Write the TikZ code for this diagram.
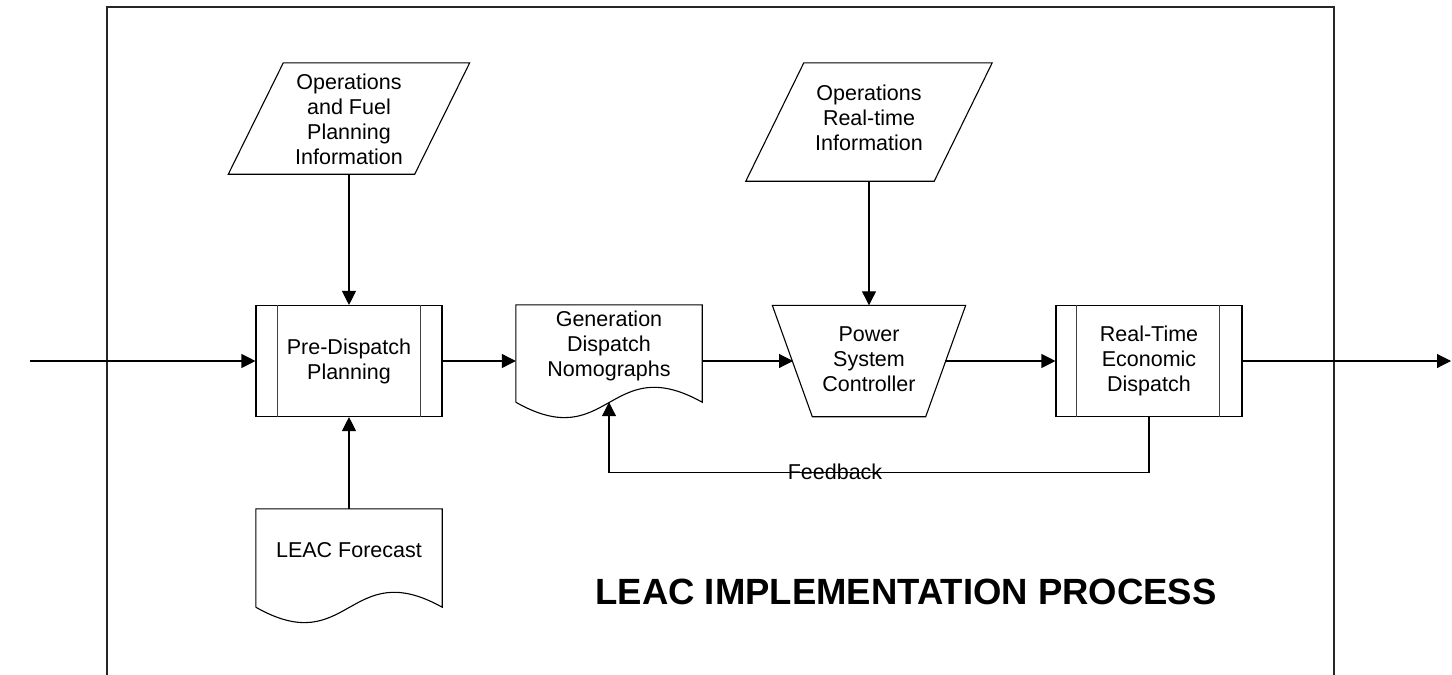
\documentclass[tikz,border=0pt]{standalone}
\usepackage{fontspec}
\setmainfont{Liberation Sans}
\usetikzlibrary{arrows.meta}
\begin{document}
\begin{tikzpicture}[x=1pt,y=-1pt,
  outline/.style={draw=black,line width=1.1pt},
  innerline/.style={draw=black!75,line width=1.1pt},
  frameline/.style={draw=black!85,line width=1.3pt},
  flow/.style={draw=black,line width=1.1pt,-{Triangle[length=14pt,width=14pt]}},
  txt/.style={align=center,inner sep=0pt,font=\fontsize{21.5}{25}\selectfont},
  procbox/.style={outline,rectangle,minimum width=186pt,minimum height=111pt,inner sep=0pt,align=center,font=\fontsize{21.5}{25}\selectfont},
  area/.style={draw=none,rectangle,inner sep=0pt}
]
\useasboundingbox (0,0) rectangle (1452,675);

% outer frame, open at the bottom
\draw[frameline] (107,675) -- (107,7) -- (1334,7) -- (1334,675);

% predefined process boxes
\node[procbox] (pre) at (349,361) {Pre-Dispatch\\Planning};
\draw[innerline] ([xshift=22pt]pre.north west) -- ([xshift=22pt]pre.south west);
\draw[innerline] ([xshift=-22pt]pre.north east) -- ([xshift=-22pt]pre.south east);

\node[procbox] (rte) at (1149,361) {Real-Time\\Economic\\Dispatch};
\draw[innerline] ([xshift=21pt]rte.north west) -- ([xshift=21pt]rte.south west);
\draw[innerline] ([xshift=-23pt]rte.north east) -- ([xshift=-23pt]rte.south east);

% document: generation dispatch nomographs
\node[area,minimum width=186pt,minimum height=97pt] (gen) at (609,353.5) {};
\draw[outline] (gen.south west) -- (gen.north west) -- (gen.north east) -- (gen.south east)
  .. controls ([yshift=52pt]gen.south) and ([yshift=-53pt]gen.south) .. (gen.south west);
\node[txt] (gent) at (609,346) {Generation\\Dispatch\\Nomographs};

% document: LEAC forecast
\node[area,minimum width=186pt,minimum height=98pt] (leac) at (349,558) {};
\draw[outline] (leac.south west) -- (leac.north west) -- (leac.north east) -- (leac.south east)
  .. controls ([yshift=52pt]leac.south) and ([yshift=-53pt]leac.south) .. (leac.south west);
\node[txt] (leact) at (349,550) {LEAC Forecast};

% manual operation: power system controller
\node[area,minimum width=193pt,minimum height=111pt] (psc) at (869,361) {};
\draw[outline] (psc.north west) -- (psc.north east) -- ([xshift=-40pt]psc.south east)
  -- ([xshift=40pt]psc.south west) -- cycle;
\node[txt] (psct) at (869,359) {Power\\System\\Controller};
\coordinate (pscW) at (793,361);
\coordinate (pscE) at (945,361);

% data inputs
\node[area,minimum width=241pt,minimum height=111pt] (par1) at (349,118.5) {};
\draw[outline] ([xshift=55pt]par1.north west) -- (par1.north east)
  -- ([xshift=-55pt]par1.south east) -- (par1.south west) -- cycle;
\node[txt] (par1t) at (349,119) {Operations\\and Fuel\\Planning\\Information};

\node[area,minimum width=246pt,minimum height=118pt] (par2) at (869,122) {};
\draw[outline] ([xshift=58pt]par2.north west) -- (par2.north east)
  -- ([xshift=-58pt]par2.south east) -- (par2.south west) -- cycle;
\node[txt] (par2t) at (869,118) {Operations\\Real-time\\Information};

% connectors
\coordinate (in) at (30,361);
\coordinate (out) at (1451,361);
\draw[flow] (in) -- (pre.west);
\draw[flow] (pre.east) -- (gen.west |- pre.east);
\draw[flow] (gen.east |- pre.east) -- (pscW);
\draw[flow] (pscE) -- (rte.west);
\draw[flow] (rte.east) -- (out);
\draw[flow] (par1.south) -- (pre.north);
\draw[flow] (par2.south) -- (psc.north);
\draw[flow] (leac.north) -- (pre.south);
\draw[flow] (rte.south) -- ++(0,55.5) -| (gen.south);
\node[txt] (fb) at (835,472) {Feedback};

% title
\node[inner sep=0pt,font=\fontsize{36.5}{41}\selectfont\bfseries] (title) at (906,592) {LEAC IMPLEMENTATION PROCESS};
\end{tikzpicture}
\end{document}
